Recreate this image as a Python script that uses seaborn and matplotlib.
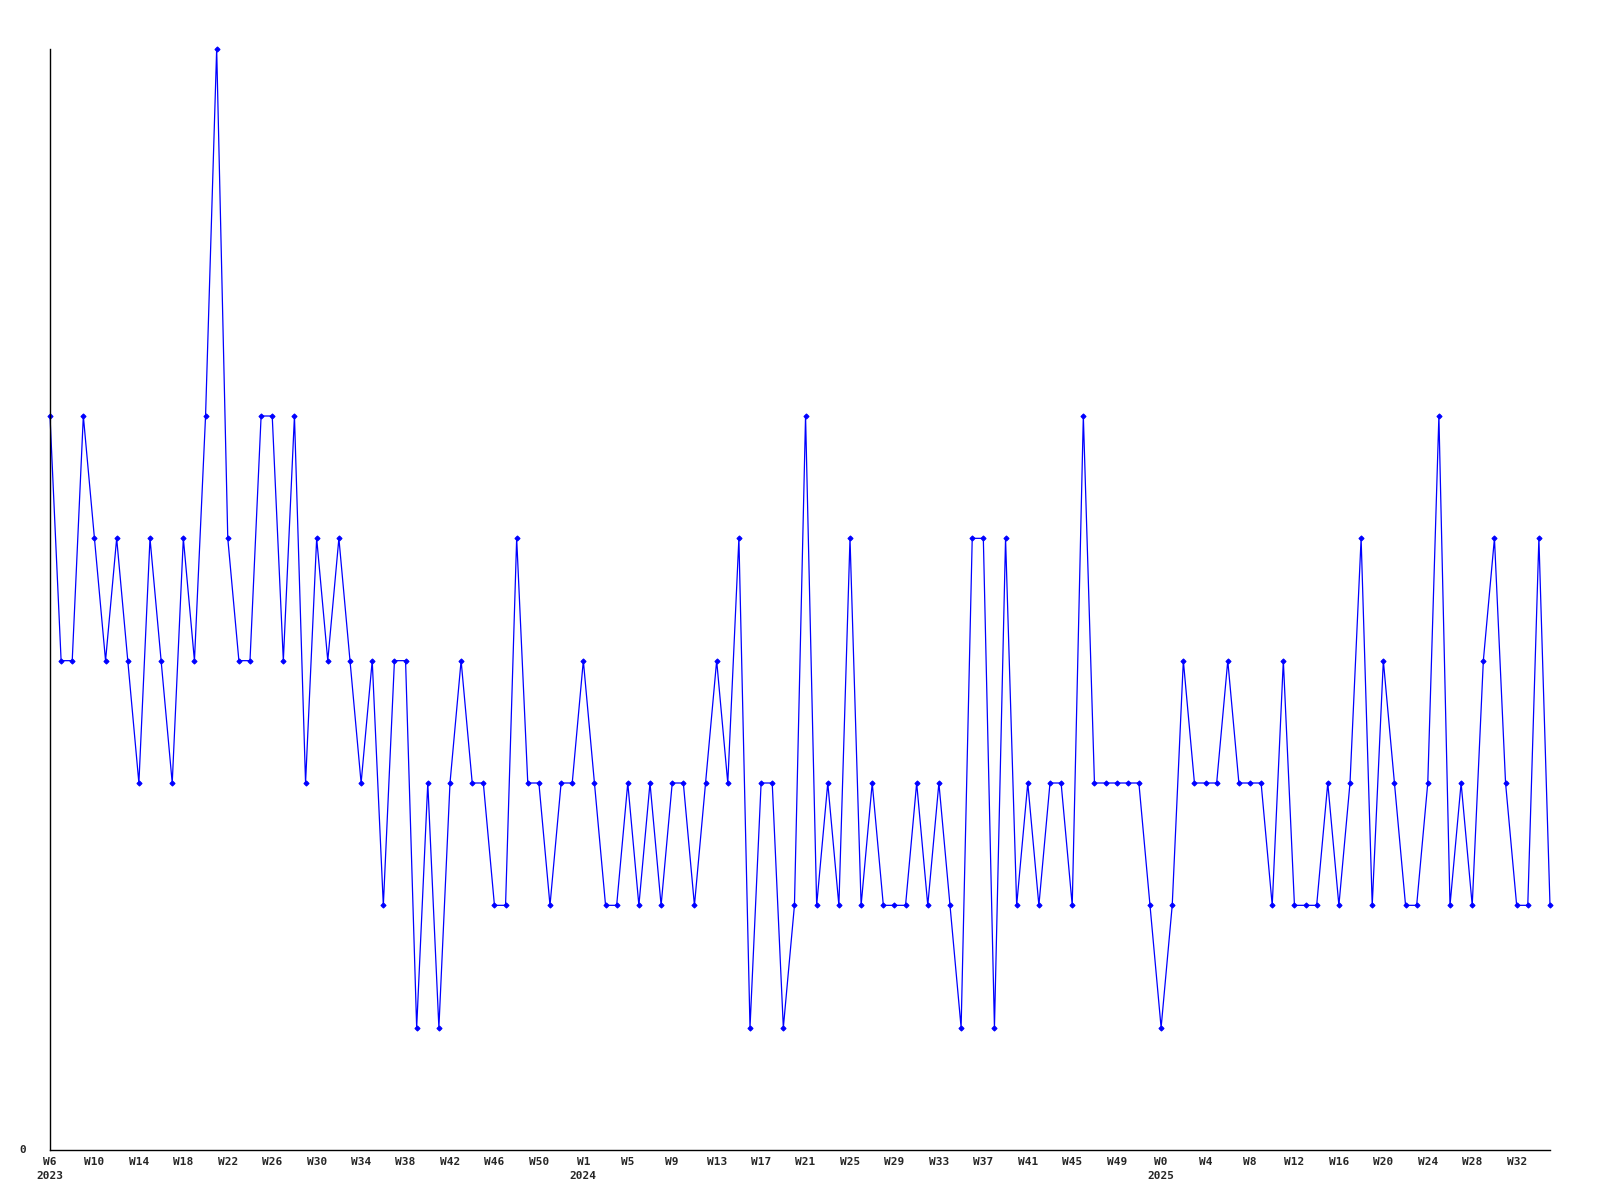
import matplotlib
matplotlib.use("Agg")
import matplotlib.pyplot as plt
import seaborn as sns
import pandas as pd

# weekly counts, W6 2023 onwards
counts = [
    6, 4, 4, 6, 5, 4, 5, 4, 3, 5, 4, 3, 5, 4, 6, 9, 5, 4, 4, 6,
    6, 4, 6, 3, 5, 4, 5, 4, 3, 4, 2, 4, 4, 1, 3, 1, 3, 4, 3, 3,
    2, 2, 5, 3, 3, 2, 3, 3, 4, 3, 2, 2, 3, 2, 3, 2, 3, 3, 2, 3,
    4, 3, 5, 1, 3, 3, 1, 2, 6, 2, 3, 2, 5, 2, 3, 2, 2, 2, 3, 2,
    3, 2, 1, 5, 5, 1, 5, 2, 3, 2, 3, 3, 2, 6, 3, 3, 3, 3, 3, 2,
    1, 2, 4, 3, 3, 3, 4, 3, 3, 3, 2, 4, 2, 2, 2, 3, 2, 3, 5, 2,
    4, 3, 2, 2, 3, 6, 2, 3, 2, 4, 5, 3, 2, 2, 5, 2,
]

week_labels = [
    "W6\n2023", "W10", "W14", "W18", "W22", "W26", "W30", "W34", "W38",
    "W42", "W46", "W50", "W1\n2024", "W5", "W9", "W13", "W17", "W21",
    "W25", "W29", "W33", "W37", "W41", "W45", "W49", "W0\n2025", "W4",
    "W8", "W12", "W16", "W20", "W24", "W28", "W32",
]
label_step = 4

df = pd.DataFrame({"week": range(len(counts)), "count": counts})

sns.set_style("white")
plt.rcParams["font.family"] = ["DejaVu Sans Mono"]

fig = plt.figure(figsize=(16, 12), dpi=100)
ax = fig.add_axes([50 / 1600, 1 - 1150 / 1200, 1500 / 1600, 1101 / 1200])

sns.lineplot(data=df, x="week", y="count", ax=ax, color="#0000ff",
             linewidth=0.9, marker="D", markersize=2.6,
             markeredgecolor="#0000ff", clip_on=False)

ax.set_xlim(0, len(counts) - 1)
ax.set_ylim(0, 9)

ax.set_xticks(range(0, len(week_labels) * label_step, label_step))
ax.set_xticklabels(week_labels, fontsize=8, fontweight="bold", linespacing=1.45)
ax.set_yticks([0])
ax.set_yticklabels(["0"], fontsize=8, fontweight="bold")
ax.tick_params(axis="x", length=0, pad=5)
ax.tick_params(axis="y", length=0, pad=17)
for lbl in ax.get_yticklabels():
    lbl.set_verticalalignment("center")

ax.set_xlabel("")
ax.set_ylabel("")
for side in ["top", "right"]:
    ax.spines[side].set_visible(False)
for side in ["left", "bottom"]:
    ax.spines[side].set_color("black")
    ax.spines[side].set_linewidth(1.0)

fig.savefig("out.png", dpi=100, facecolor="white")
